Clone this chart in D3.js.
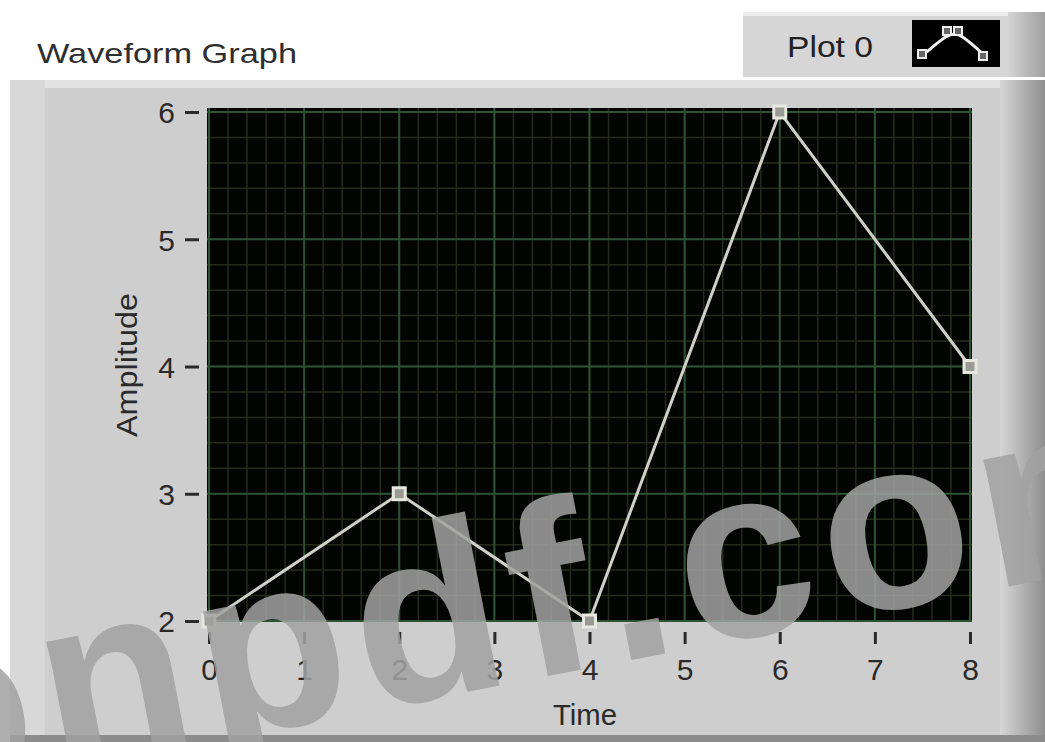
<!DOCTYPE html>
<html>
<head>
<meta charset="utf-8">
<script src="https://cdn.jsdelivr.net/npm/d3@7"></script>
<style>
  body { margin: 0; background: #fff; }
  svg { display: block; font-family: "Liberation Sans", Arial, sans-serif; }
</style>
</head>
<body>
<script>
// waveform values
var times = [0, 2, 4, 6, 8]
var amplitudes = [2, 3, 2, 6, 4]
var xTicks = [0, 1, 2, 3, 4, 5, 6, 7, 8]
var yTicks = [2, 3, 4, 5, 6]

let W = 1045, H = 742
let svg = d3.select('body').append('svg').attr('width', W).attr('height', H)

let defs = svg.append('defs')
let grad = defs.append('linearGradient').attr('id', 'rightEdge')
grad.append('stop').attr('offset', '0%').attr('stop-color', '#d6d6d6')
grad.append('stop').attr('offset', '100%').attr('stop-color', '#8e8e8e')
let grad2 = defs.append('linearGradient').attr('id', 'legEdge')
grad2.append('stop').attr('offset', '0%').attr('stop-color', '#d4d4d4')
grad2.append('stop').attr('offset', '100%').attr('stop-color', '#a0a0a0')

// panel
svg.append('rect').attr('x', 0).attr('y', 0).attr('width', W).attr('height', H).attr('fill', '#fff')
svg.append('rect').attr('x', 10).attr('y', 80).attr('width', 1035).attr('height', 660).attr('fill', '#cecece')
svg.append('rect').attr('x', 10).attr('y', 80).attr('width', 1035).attr('height', 8).attr('fill', '#e2e2e2')
svg.append('rect').attr('x', 10).attr('y', 80).attr('width', 35).attr('height', 660).attr('fill', '#d8d8d8')
svg.append('rect').attr('x', 1000).attr('y', 80).attr('width', 45).attr('height', 660).attr('fill', 'url(#rightEdge)')
svg.append('rect').attr('x', 10).attr('y', 735).attr('width', 1035).attr('height', 7).attr('fill', '#8c8c8c')

// title
svg.append('text').attr('x', 37).attr('y', 63).attr('font-size', 28).attr('fill', '#2e2e2e')
  .attr('textLength', 260).attr('lengthAdjust', 'spacingAndGlyphs').text('Waveform Graph')

// legend
let leg = svg.append('g')
leg.append('rect').attr('x', 743).attr('y', 12).attr('width', 302).attr('height', 65).attr('fill', '#d6d6d6')
leg.append('rect').attr('x', 743).attr('y', 12).attr('width', 302).attr('height', 4).attr('fill', '#ececec')
leg.append('rect').attr('x', 1008).attr('y', 12).attr('width', 37).attr('height', 65).attr('fill', 'url(#legEdge)')
leg.append('text').attr('x', 787).attr('y', 57).attr('font-size', 29).attr('fill', '#222')
  .attr('textLength', 86).attr('lengthAdjust', 'spacingAndGlyphs').text('Plot 0')
leg.append('rect').attr('x', 912).attr('y', 20).attr('width', 88).attr('height', 47).attr('fill', '#000')
let iconPts = [[923, 55], [935, 45], [946, 36], [955, 33], [962, 36], [973, 45], [984, 55]]
leg.append('path').attr('d', d3.line().curve(d3.curveBasis)(iconPts)).attr('fill', 'none').attr('stroke', '#eee').attr('stroke-width', 3)
;[[922, 54], [947, 31], [958, 31], [983, 56]].forEach(p => {
  leg.append('rect').attr('x', p[0] - 4).attr('y', p[1] - 4).attr('width', 8).attr('height', 8)
    .attr('fill', '#666').attr('stroke', '#eee').attr('stroke-width', 2)
})

// plot area
let pLeft = 207, pRight = 972, pTop = 108, pBottom = 622
let xScale = d3.scaleLinear().domain([0, 8]).range([pLeft + 2, pRight - 2])
let yScale = d3.scaleLinear().domain([2, 6]).range([pBottom - 1, pTop + 4])

svg.append('rect').attr('x', pLeft).attr('y', pTop).attr('width', pRight - pLeft).attr('height', pBottom - pTop).attr('fill', '#020402')

let plot = svg.append('g')
// minor grid
let minorX = d3.range(0, 8.001, 0.2)
let minorY = d3.range(2, 6.001, 0.2)
plot.selectAll('.mx').data(minorX).enter().append('line')
  .attr('x1', d => xScale(d)).attr('x2', d => xScale(d)).attr('y1', pTop).attr('y2', pBottom)
  .attr('stroke', '#262a1c').attr('stroke-width', 1.5)
plot.selectAll('.my').data(minorY).enter().append('line')
  .attr('y1', d => yScale(d)).attr('y2', d => yScale(d)).attr('x1', pLeft).attr('x2', pRight)
  .attr('stroke', '#262a1c').attr('stroke-width', 1.5)
// major grid
plot.selectAll('.Mx').data(xTicks).enter().append('line')
  .attr('x1', d => xScale(d)).attr('x2', d => xScale(d)).attr('y1', pTop).attr('y2', pBottom)
  .attr('stroke', '#2c5234').attr('stroke-width', 2)
plot.selectAll('.My').data(yTicks).enter().append('line')
  .attr('y1', d => yScale(d)).attr('y2', d => yScale(d)).attr('x1', pLeft).attr('x2', pRight)
  .attr('stroke', '#2c5234').attr('stroke-width', 2)

// axes
let xAxis = d3.axisBottom(xScale).tickValues(xTicks).tickSize(0).tickPadding(0).tickFormat(d3.format('d'))
let xg = svg.append('g').attr('transform', 'translate(0,' + pBottom + ')').call(xAxis)
xg.select('.domain').remove()
xg.selectAll('text').attr('font-size', 30).attr('fill', '#2a2a2a').attr('dy', 0).attr('y', 58)
xg.selectAll('.tick').append('line').attr('y1', 10).attr('y2', 22).attr('stroke', '#2a2a2a').attr('stroke-width', 3)

let yAxis = d3.axisLeft(yScale).tickValues(yTicks).tickSize(0).tickPadding(0).tickFormat(d3.format('d'))
let yg = svg.append('g').attr('transform', 'translate(' + pLeft + ',0)').call(yAxis)
yg.select('.domain').remove()
yg.selectAll('text').attr('font-size', 30).attr('fill', '#2a2a2a').attr('x', -32).attr('dy', '0.36em')
yg.selectAll('.tick').append('line').attr('x1', -22).attr('x2', -8).attr('stroke', '#2a2a2a').attr('stroke-width', 3)

svg.append('text').attr('x', 585).attr('y', 725).attr('text-anchor', 'middle').attr('font-size', 29).attr('fill', '#2a2a2a')
  .attr('textLength', 64).attr('lengthAdjust', 'spacingAndGlyphs').text('Time')
svg.append('text').attr('transform', 'translate(137,365) rotate(-90)').attr('text-anchor', 'middle')
  .attr('font-size', 29).attr('fill', '#2a2a2a').attr('textLength', 144).attr('lengthAdjust', 'spacingAndGlyphs').text('Amplitude')

// waveform
let data = times.map((t, i) => ({ t: t, a: amplitudes[i] }))
let line = d3.line().x(d => xScale(d.t)).y(d => yScale(d.a))
svg.append('path').datum(data).attr('d', line).attr('fill', 'none').attr('stroke', '#d0d0c8').attr('stroke-width', 3)
svg.selectAll('.pt').data(data).enter().append('rect')
  .attr('x', d => xScale(d.t) - 6).attr('y', d => yScale(d.a) - 6).attr('width', 12).attr('height', 12)
  .attr('fill', '#9a9a94').attr('stroke', '#e8e8e0').attr('stroke-width', 3)

// watermark
let wm = svg.append('g').attr('transform', 'translate(55,772) rotate(-11)')
  .attr('font-size', 245).attr('font-weight', 'bold').attr('fill', '#a2a2a2').attr('opacity', 0.85)
  .attr('font-family', '"Liberation Sans", Arial, sans-serif')
wm.append('text').attr('letter-spacing', 10).text('npdf.com')
wm.append('text').attr('x', -10).attr('text-anchor', 'end').text('o')
</script>
</body>
</html>
